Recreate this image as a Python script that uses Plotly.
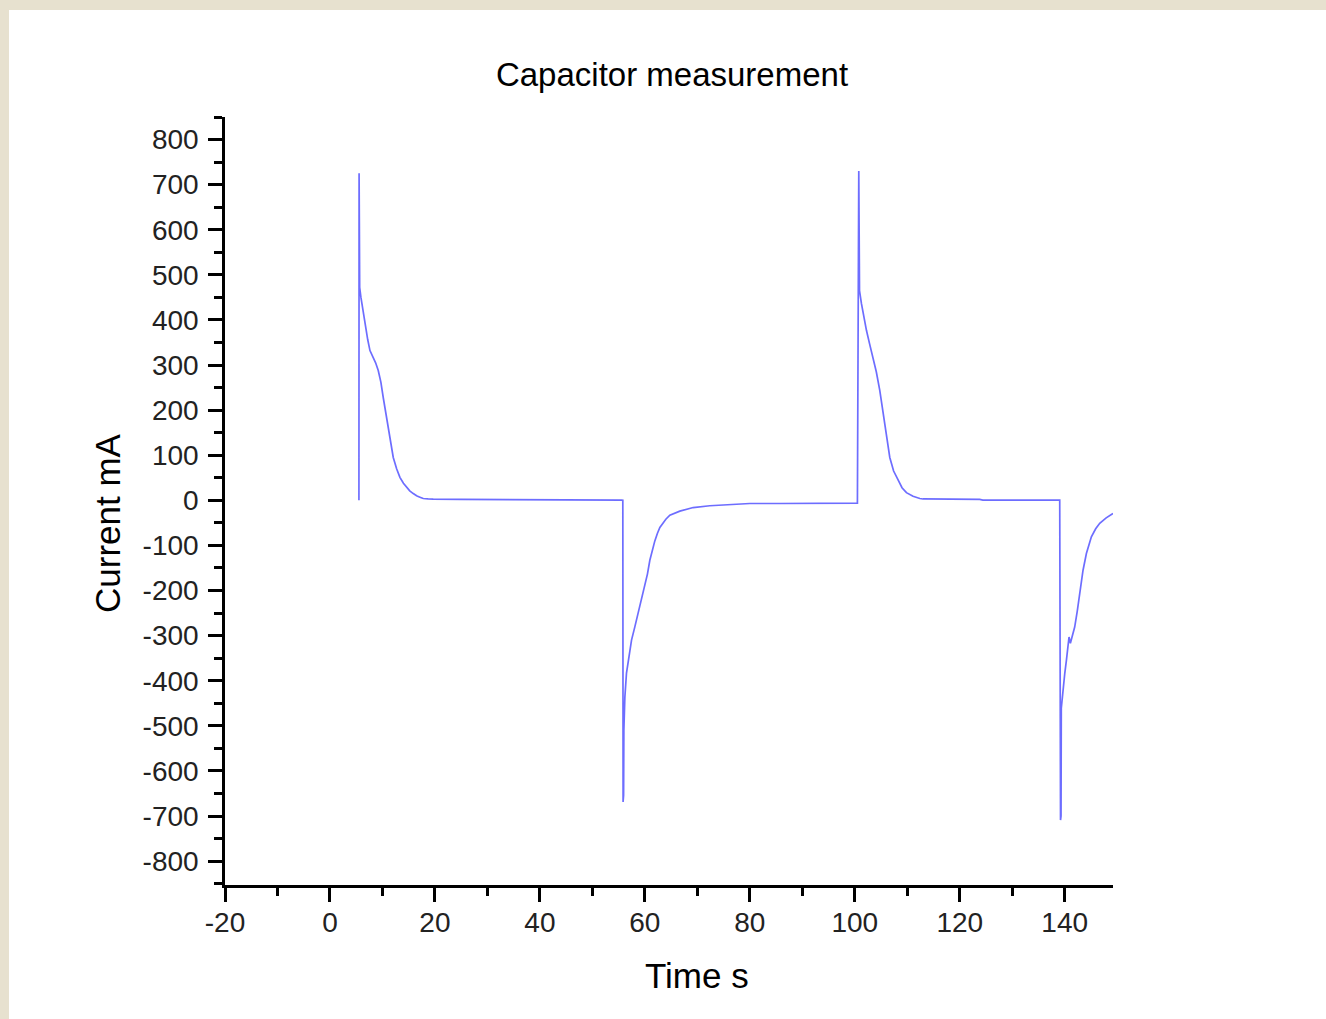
import plotly.graph_objects as go

# Time (s) and current (mA)
time_charge1 = [5.52, 5.55, 5.58, 5.62, 5.66, 5.9, 6.3, 6.67, 7.2, 7.62, 8.25, 8.7, 9.2, 9.7,
                10.15, 10.6, 11.1, 11.6, 12.06, 12.7, 13.33, 14.0, 14.6, 15.2, 15.87, 16.5,
                17.14, 17.78, 18.7, 19.68, 25.0, 33.0, 33.65, 45.0, 55.56]
curr_charge1 = [0, 725, 612, 560, 472, 450, 418, 392, 356, 332, 317, 305, 288, 262,
                228, 196, 162, 127, 95, 70, 51, 38, 29, 21, 15, 10,
                7, 4, 3, 2.5, 2, 2, 0.5, 0.5, 0.5]

time_discharge1 = [55.8, 55.85, 55.9, 55.95, 56.0, 56.19, 56.5, 57.0, 57.46, 58.1, 58.71,
                   59.4, 60.0, 60.5, 60.95, 61.4, 61.9, 62.4, 62.86, 64.0, 64.76, 66.67,
                   69.2, 72.38, 75.56, 80.0, 85.71, 91.43, 97.14, 100.0, 100.5]
curr_discharge1 = [0, -669, -560, -654, -510, -437, -383, -340, -310, -280, -250,
                   -222, -193, -163, -133, -110, -90, -73, -60, -42, -33, -24,
                   -16, -12, -10, -7, -7, -7, -7, -7, -6]

time_charge2 = [100.76, 100.8, 100.85, 100.9, 101.27, 101.7, 102.22, 102.8, 103.49, 104.1,
                104.76, 105.2, 105.71, 106.2, 106.67, 107.4, 108.25, 109.0, 109.84, 111.1,
                112.4, 113.0, 123.81, 124.4, 139.05]
curr_charge2 = [730, 547, 700, 465, 436, 405, 377, 348, 317, 285,
                244, 208, 171, 132, 95, 65, 44, 28, 17, 9,
                4, 3, 2, 0.5, 0.5]

time_discharge2 = [139.2, 139.25, 139.3, 139.35, 139.68, 140.0, 140.32, 140.82, 141.08,
                   141.5, 141.9, 142.4, 142.86, 143.49, 144.13, 145.08, 145.9, 146.67,
                   147.9, 149.2]
curr_discharge2 = [-709, -539, -700, -461, -414, -385, -355, -303, -317,
                   -300, -281, -245, -207, -155, -118, -81, -63, -51,
                   -39, -29]

x_ticks = [-20, 0, 20, 40, 60, 80, 100, 120, 140]
y_ticks = list(range(-800, 801, 100))

time_s = time_charge1 + time_discharge1 + time_charge2 + time_discharge2
current_mA = curr_charge1 + curr_discharge1 + curr_charge2 + curr_discharge2

W, H = 1326, 1019
ml, mr, mt, mb = 225, 213, 117, 134
pw, ph = W - ml - mr, H - mt - mb

fig = go.Figure()
fig.add_trace(go.Scatter(
    x=time_s, y=current_mA, mode="lines",
    line=dict(color="rgba(60,60,255,0.75)", width=1.7),
    showlegend=False, hoverinfo="x+y"))

font_fam = "Liberation Sans, Arial, sans-serif"
beige = "#e7e1cf"

# white page over beige background
fig.add_shape(type="rect", xref="paper", yref="paper", layer="below",
              x0=(9 - ml) / pw, x1=(W + 5 - ml) / pw,
              y0=-(H - mt - ph) / ph - 0.02, y1=(ph + mt - 10) / ph,
              fillcolor="white", line=dict(width=0))

axis_common = dict(
    showline=True, linecolor="black", linewidth=2.5,
    ticks="outside", ticklen=14, tickwidth=2.5, tickcolor="black",
    showgrid=False, zeroline=False, mirror=False,
    tickfont=dict(family=font_fam, size=28, color="#222"),
)


def px_x(p):
    return (p - ml) / pw


def px_y(p):
    return (H - mb - p) / ph


fig.add_annotation(text="Time s", xref="paper", yref="paper",
                   x=px_x(697), y=px_y(975), xanchor="center", yanchor="middle",
                   showarrow=False, font=dict(family=font_fam, size=35, color="black"))
fig.add_annotation(text="Current mA", xref="paper", yref="paper", textangle=-90,
                   x=px_x(107), y=px_y(523), xanchor="center", yanchor="middle",
                   showarrow=False, font=dict(family=font_fam, size=35, color="black"))

fig.update_layout(
    width=W, height=H,
    margin=dict(l=ml, r=mr, t=mt, b=mb),
    paper_bgcolor=beige,
    plot_bgcolor="white",
    title=dict(text="Capacitor measurement", x=(672 / W), xanchor="center",
               y=1 - 74 / H, yanchor="middle",
               font=dict(family=font_fam, size=33, color="black")),
    xaxis=dict(
        range=[-20, 149.2], tickvals=x_ticks, ticktext=[str(v) for v in x_ticks],
        minor=dict(dtick=10, tick0=0, ticks="outside", ticklen=8, tickwidth=2.5, tickcolor="black"),
        ticklabelstandoff=-3,
        **axis_common),
    yaxis=dict(
        range=[-853, 850], tickvals=y_ticks, ticktext=[str(v) for v in y_ticks],
        minor=dict(dtick=50, tick0=0, ticks="outside", ticklen=8, tickwidth=2.5, tickcolor="black"),
        ticklabelstandoff=4,
        **axis_common),
)

fig.write_html("out.html", config={"displayModeBar": False},
               post_script="document.body.style.margin='0px';document.body.style.background='%s';" % beige)
